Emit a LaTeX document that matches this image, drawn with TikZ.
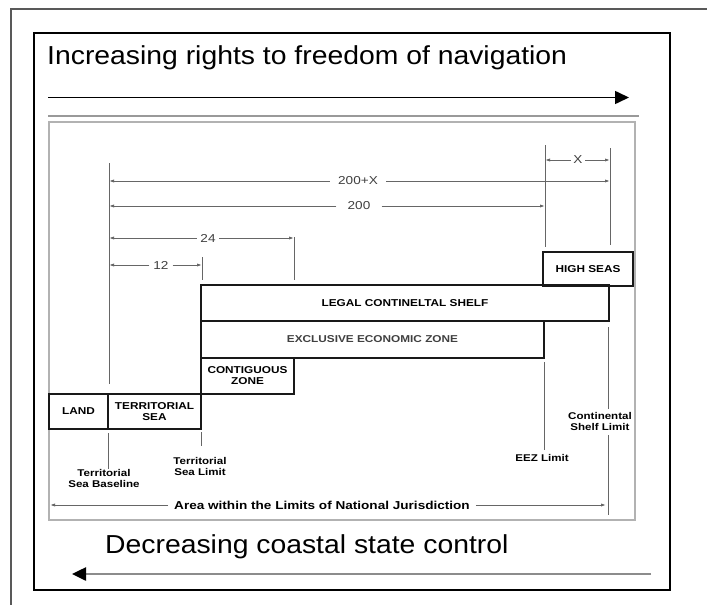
\documentclass[tikz,border=0pt]{standalone}
\usepackage{fontspec}
\setmainfont{Liberation Sans}
\newfontfamily\labfont[FakeStretch=1.18]{Liberation Sans}
\newfontfamily\capfont[FakeStretch=1.09]{Liberation Sans}
\usetikzlibrary{arrows.meta,calc}

\begin{document}
\begin{tikzpicture}[x=1pt,y=-1pt,
  zone/.style={draw=black!90, line width=2pt, anchor=north west, inner sep=0pt,
    outer sep=0pt, align=center,
    font=\labfont\bfseries\fontsize{10}{11}\selectfont},
  guide/.style={draw=black!60, line width=0.9pt},
  dim/.style={guide, -{Latex[length=5pt,width=3.2pt]}},
  dimlab/.style={inner ysep=0pt, font=\labfont\fontsize{11.5}{12}\selectfont, text=black!75},
  note/.style={align=center, inner sep=0pt,
    font=\labfont\bfseries\fontsize{9.8}{11}\selectfont},
  big/.style={inner sep=0pt, anchor=west, font=\capfont\fontsize{26}{30}\selectfont},
  bigarrow/.style={line width=1.6pt, -{Triangle[length=14pt,width=13pt,color=black]}},
]
\useasboundingbox (0,0) rectangle (707,605);
\fill[white] (0,0) rectangle (707,605);

% page frame and panel
\draw[black!65, line width=1.5pt] (707,9) -- (11,9) -- (11,605);
\draw[line width=2pt] (34,33) rectangle (670,590);

% top caption and arrow
\node[big] (title) at (47,58) {Increasing rights to freedom of navigation};
\coordinate (ra) at (48,97.5);
\coordinate (rb) at (629,97.5);
\draw[bigarrow] (ra) -- (rb);
\draw[black!40, line width=2.5pt] (48,116) -- (639,116);

% figure box
\draw[black!30, line width=1.5pt] (49,122) rectangle (635,520);

% zones
\node[zone, minimum width=59pt, minimum height=35pt] (land) at (49,394) {LAND};
\node[zone, minimum width=93pt, minimum height=35pt] (tsea) at (108,394) {TERRITORIAL\\SEA};
\node[zone, minimum width=93pt, minimum height=36pt] (contig) at (201,358) {CONTIGUOUS\\ZONE};
\node[zone, minimum width=343pt, minimum height=37pt, text=black!75] (eez) at (201,321) {EXCLUSIVE ECONOMIC ZONE};
\node[zone, minimum width=408pt, minimum height=36pt] (shelf) at (201,285) {LEGAL CONTINELTAL SHELF};
\node[zone, minimum width=90pt, minimum height=34pt] (high) at (543,252) {HIGH SEAS};

% extension lines above the zones
\coordinate (b0) at (109,163);  \coordinate (b1) at (109,384);
\coordinate (t12a) at (202,257); \coordinate (t12b) at (202,280);
\coordinate (t24a) at (294,237); \coordinate (t24b) at (294,280);
\coordinate (e0) at (545,145);  \coordinate (e1) at (545,247);
\coordinate (c0) at (610,148);  \coordinate (c1) at (610,245);
\draw[guide] (b0) -- (b1);
\draw[guide] (t12a) -- (t12b);
\draw[guide] (t24a) -- (t24b);
\draw[guide] (e0) -- (e1);
\draw[guide] (c0) -- (c1);

% distances
\node[dimlab, inner xsep=2.5pt] (lx) at (578,160) {X};
\draw[dim] (lx.west) -- (e0 |- lx);
\draw[dim] (lx.east) -- (c0 |- lx);
\node[dimlab, inner xsep=8pt] (l200x) at (358,181) {200+X};
\draw[dim] (l200x.west) -- (b0 |- l200x);
\draw[dim] (l200x.east) -- (c0 |- l200x);
\node[dimlab, inner xsep=11pt] (l200) at (359,206) {200};
\draw[dim] (l200.west) -- (b0 |- l200);
\draw[dim] (l200.east) -- (e0 |- l200);
\node[dimlab, inner xsep=3.5pt] (l24) at (208,238) {24};
\draw[dim] (l24.west) -- (b0 |- l24);
\draw[dim] (l24.east) -- (t24a |- l24);
\node[dimlab, inner xsep=4pt] (l12) at (161,265) {12};
\draw[dim] (l12.west) -- (b0 |- l12);
\draw[dim] (l12.east) -- (t12a |- l12);

% limit labels below the zones
\node[note] (tsb) at (104,478) {Territorial\\Sea Baseline};
\node[note] (tsl) at (200,466) {Territorial\\Sea Limit};
\node[note] (eezl) at (542,458) {EEZ Limit};
\node[note] (csl) at (600,421) {Continental\\Shelf Limit};
\draw[guide] ($(land.south east)+(0,4)$) -- (tsb.north -| land.south east);
\draw[guide] ($(tsea.south east)+(0,3)$) -- ++(0,14);
\draw[guide] ($(eez.south east)+(0,4)$) -- ($(eezl.north -| eez.south east)+(0,-4)$);
\coordinate (cs0) at (608,327);
\coordinate (cs1) at (608,515);
\draw[guide] (cs0) -- ($(csl.north -| cs0)+(0,-3)$);
\draw[guide] ($(csl.south -| cs0)+(0,5)$) -- (cs1);

% national jurisdiction
\node[note, inner xsep=6pt, font=\labfont\bfseries\fontsize{11.5}{12}\selectfont] (area) at (322,505)
  {Area within the Limits of National Jurisdiction};
\draw[dim] (area.west) -- (50,505);
\draw[dim] (area.east) -- (606,505);

% bottom caption and arrow
\node[big] (dec) at (105,547) {Decreasing coastal state control};
\coordinate (la) at (651,574);
\coordinate (lb) at (72,574);
\draw[bigarrow, draw=black!45, line width=2.5pt] (la) -- (lb);
\end{tikzpicture}
\end{document}
